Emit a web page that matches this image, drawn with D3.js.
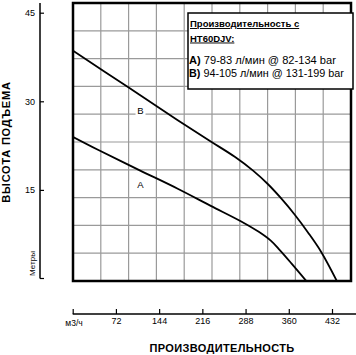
<!DOCTYPE html>
<html><head><meta charset="utf-8">
<script src="https://cdn.jsdelivr.net/npm/d3@7"></script>
<style>body{margin:0;background:#fff}svg{display:block}text{font-family:"Liberation Sans",Arial,sans-serif}</style>
</head><body>
<script>
const xTicks = [72, 144, 216, 288, 360, 432];
const yTicks = [15, 30, 45];
const curveB = [[0,38.6],[92,32.4],[175,26.8],[230,23.2],[270,20.6],[300,18.3],[325,16.0],[347,13.6],[370,10.8],[392,7.8],[414,4.5],[440,-0.4]];
const curveA = [[0,24.0],[42,21.8],[110,18.4],[175,15.2],[230,12.3],[280,9.7],[310,7.9],[330,6.4],[345,4.8],[364,2.6],[389,-0.4]];
const curveLabels = [["B",113,28.5],["A",113,15.9]];
const legendTitle = ["Производительность с", "HT60DJV:"];
const legendRows = [["A)", " 79-83 л/мин @ 82-134 bar"], ["B)", " 94-105 л/мин @ 131-199 bar"]];
const gridCount = 10;

const W = 356, H = 355;
const svg = d3.select("body").append("svg").attr("width", W).attr("height", H);
const box = {x0: 73, x1: 351, y0: 3, y1: 281};
const x = d3.scaleLinear().domain([0, 432]).range([72.7, 332]);
const y = d3.scaleLinear().domain([0, 45]).range([278.5, 12.7]);
const gx = d3.scaleLinear().domain([0, gridCount]).range([box.x0, box.x1]);
const gy = d3.scaleLinear().domain([0, gridCount]).range([box.y0, box.y1]);

// grid
const g = svg.append("g");
g.selectAll(".gv").data(d3.range(1, gridCount)).join("line")
  .attr("x1", d => gx(d)).attr("x2", d => gx(d)).attr("y1", box.y0).attr("y2", box.y1)
  .attr("stroke", "#9a9a9a").attr("stroke-width", 1.2);
g.selectAll(".gh").data(d3.range(1, gridCount)).join("line")
  .attr("y1", d => gy(d)).attr("y2", d => gy(d)).attr("x1", box.x0).attr("x2", box.x1)
  .attr("stroke", "#9a9a9a").attr("stroke-width", 1.2);

// curves
svg.append("clipPath").attr("id", "clip").append("rect")
  .attr("x", box.x0).attr("y", box.y0).attr("width", box.x1 - box.x0).attr("height", box.y1 - box.y0);
const line = d3.line().x(d => x(d[0])).y(d => y(d[1])).curve(d3.curveCatmullRom.alpha(0.5));
[curveA, curveB].forEach(c => svg.append("path").attr("d", line(c)).attr("clip-path", "url(#clip)")
  .attr("fill", "none").attr("stroke", "#000").attr("stroke-width", 1.8));

// curve labels
curveLabels.forEach(([t, vx, vy]) => {
  svg.append("rect").attr("x", x(vx) - 5).attr("y", y(vy) - 6).attr("width", 10).attr("height", 12).attr("fill", "#fff");
  svg.append("text").attr("x", x(vx)).attr("y", y(vy) + 3.5).attr("text-anchor", "middle")
    .attr("font-size", 9.5).text(t);
});

// plot border
svg.append("rect").attr("x", box.x0).attr("y", box.y0).attr("width", box.x1 - box.x0).attr("height", box.y1 - box.y0)
  .attr("fill", "none").attr("stroke", "#000").attr("stroke-width", 2.5);

// legend box
const lg = svg.append("g");
lg.append("rect").attr("x", 188).attr("y", 13).attr("width", 165).attr("height", 76)
  .attr("fill", "#fff").attr("stroke", "#000").attr("stroke-width", 1.5);
legendTitle.forEach((t, i) => lg.append("text").attr("x", 190).attr("y", 27 + i * 14.5)
  .attr("font-size", 9.5).attr("font-weight", "bold").attr("text-decoration", "underline").text(t));
legendRows.forEach((r, i) => {
  const tx = lg.append("text").attr("x", 189).attr("y", 64 + i * 12.5).attr("font-size", i === 0 ? 11.1 : 10.8);
  tx.append("tspan").attr("font-weight", "bold").text(r[0]);
  tx.append("tspan").text(r[1]);
});

// y axis
const yAxis = d3.axisRight(y).tickValues(yTicks).tickSize(4).tickFormat(d3.format("d"));
const ya = svg.append("g").attr("transform", "translate(40,0)").call(yAxis);
ya.select(".domain").remove();
ya.selectAll(".tick line").attr("stroke", "#000").attr("stroke-width", 1.2);
ya.selectAll(".tick text").attr("x", -5).attr("text-anchor", "end").attr("font-size", 9).attr("font-family", null);
svg.append("line").attr("x1", 40).attr("x2", 40).attr("y1", 3).attr("y2", y(0)).attr("stroke", "#000").attr("stroke-width", 1.5);
svg.append("line").attr("x1", 40).attr("x2", 44).attr("y1", y(0)).attr("y2", y(0)).attr("stroke", "#000").attr("stroke-width", 1.2);

svg.append("text").attr("transform", `translate(35,${y(0) - 15}) rotate(-90)`).attr("text-anchor", "middle")
  .attr("font-size", 8).text("Метры");
svg.append("text").attr("transform", "translate(10,142) rotate(-90)").attr("text-anchor", "middle")
  .attr("font-size", 11).attr("letter-spacing", 0.8).attr("font-weight", "bold").text("ВЫСОТА ПОДЪЕМА");

// x axis
const xAxis = d3.axisTop(x).tickValues([0, ...xTicks]).tickSize(5).tickFormat(d => d === 0 ? "" : d);
const xa = svg.append("g").attr("transform", "translate(0,314)").call(xAxis);
xa.select(".domain").remove();
xa.selectAll(".tick line").attr("stroke", "#000").attr("stroke-width", 1.2);
xa.selectAll(".tick text").attr("y", 10).attr("dy", 0).attr("font-size", 9).attr("font-family", null);
svg.append("line").attr("x1", x(0)).attr("x2", W).attr("y1", 314).attr("y2", 314).attr("stroke", "#000").attr("stroke-width", 1.5);
svg.append("text").attr("x", 74).attr("y", 326).attr("text-anchor", "middle").attr("font-size", 8.5).text("м3/ч");
svg.append("text").attr("x", 222).attr("y", 352).attr("text-anchor", "middle")
  .attr("font-size", 11).attr("letter-spacing", 0.35).attr("font-weight", "bold").text("ПРОИЗВОДИТЕЛЬНОСТЬ");
</script>
</body></html>
